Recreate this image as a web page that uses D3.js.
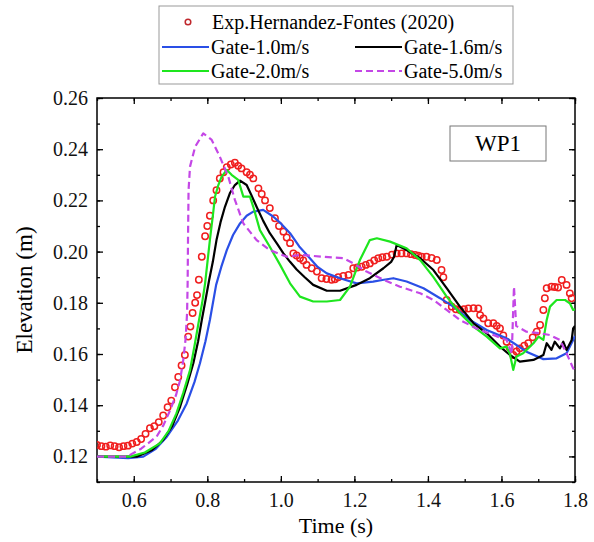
<!DOCTYPE html>
<html>
<head>
<meta charset="utf-8">
<script src="https://cdn.jsdelivr.net/npm/d3@7"></script>
<style>
  body { margin: 0; background: #fff; }
  text { font-family: "Liberation Serif", "Times New Roman", serif; }
</style>
</head>
<body>
<div id="chart"></div>
<script>
// ---- data (time s, elevation m) ----
let expData = [
  [0.500,0.1245],[0.512,0.1240],[0.524,0.1238],[0.536,0.1243],[0.548,0.1240],[0.560,0.1236],
  [0.572,0.1240],[0.584,0.1242],[0.596,0.1250],[0.608,0.1256],[0.620,0.1268],[0.632,0.1288],
  [0.644,0.1310],[0.656,0.1318],[0.668,0.1334],[0.680,0.1360],[0.692,0.1392],[0.702,0.1418],
  [0.712,0.1470],[0.721,0.1510],[0.730,0.1555],[0.739,0.1596],[0.748,0.1668],[0.754,0.1707],
  [0.760,0.1760],[0.767,0.1800],[0.772,0.1830],[0.777,0.1890],[0.785,0.1980],[0.794,0.2060],
  [0.800,0.2100],[0.807,0.2140],[0.816,0.2200],[0.825,0.2240],[0.834,0.2286],[0.844,0.2310],
  [0.853,0.2330],[0.864,0.2340],[0.875,0.2347],[0.884,0.2335],[0.893,0.2325],[0.907,0.2310],
  [0.916,0.2300],[0.925,0.2286],[0.939,0.2247],[0.948,0.2225],[0.957,0.2200],[0.970,0.2170],
  [0.984,0.2130],[0.995,0.2100],[1.007,0.2078],[1.016,0.2055],[1.025,0.2033],[1.034,0.1993],
  [1.043,0.1985],[1.052,0.1974],[1.061,0.1965],[1.070,0.1948],[1.084,0.1935],[1.098,0.1922],
  [1.111,0.1896],[1.124,0.1893],[1.138,0.1890],[1.147,0.1892],[1.156,0.1900],[1.170,0.1905],
  [1.184,0.1909],[1.197,0.1935],[1.208,0.1938],[1.220,0.1941],[1.231,0.1948],[1.242,0.1954],
  [1.254,0.1965],[1.265,0.1974],[1.276,0.1978],[1.288,0.1980],[1.302,0.1988],[1.315,0.1993],
  [1.328,0.1993],[1.342,0.1993],[1.354,0.1990],[1.365,0.1987],[1.374,0.1984],[1.383,0.1980],
  [1.396,0.1980],[1.410,0.1975],[1.424,0.1967],[1.437,0.1928],[1.442,0.1900],[1.451,0.1811],
  [1.465,0.1785],[1.476,0.1775],[1.487,0.1772],[1.498,0.1775],[1.510,0.1778],[1.524,0.1779],
  [1.537,0.1778],[1.542,0.1752],[1.551,0.1739],[1.564,0.1720],[1.578,0.1720],[1.587,0.1710],
  [1.596,0.1700],[1.605,0.1672],[1.614,0.1648],[1.622,0.1625],[1.632,0.1596],[1.641,0.1610],
  [1.650,0.1622],[1.662,0.1632],[1.673,0.1642],[1.685,0.1665],[1.696,0.1687],[1.705,0.1713],
  [1.714,0.1772],[1.718,0.1818],[1.723,0.1857],[1.736,0.1863],[1.745,0.1862],[1.754,0.1860],
  [1.764,0.1889],[1.777,0.1870],[1.786,0.1837],[1.791,0.1818]
]

let gate10 = [
  [0.500,0.1199],[0.585,0.1193],[0.626,0.1199],[0.660,0.1230],[0.690,0.1277],[0.720,0.1340],
  [0.744,0.1407],[0.765,0.1490],[0.780,0.1564],[0.795,0.1650],[0.807,0.1733],[0.824,0.1870],
  [0.838,0.1940],[0.853,0.2006],[0.870,0.2065],[0.889,0.2110],[0.907,0.2140],[0.925,0.2156],
  [0.952,0.2163],[0.979,0.2137],[1.000,0.2110],[1.025,0.2072],[1.050,0.2020],[1.079,0.1974],
  [1.100,0.1940],[1.125,0.1915],[1.161,0.1896],[1.206,0.1876],[1.251,0.1883],[1.280,0.1890],
  [1.306,0.1896],[1.342,0.1883],[1.388,0.1857],[1.433,0.1818],[1.469,0.1785],[1.514,0.1733],
  [1.560,0.1694],[1.614,0.1661],[1.668,0.1609],[1.714,0.1580],[1.750,0.1583],[1.777,0.1603],
  [1.795,0.1655],[1.800,0.1670]
]

let gate16 = [
  [0.500,0.1199],[0.608,0.1199],[0.650,0.1225],[0.680,0.1264],[0.705,0.1320],[0.726,0.1394],
  [0.745,0.1480],[0.762,0.1564],[0.775,0.1650],[0.785,0.1733],[0.795,0.1810],[0.805,0.1889],
  [0.815,0.1960],[0.825,0.2045],[0.836,0.2115],[0.848,0.2175],[0.862,0.2230],[0.875,0.2260],
  [0.889,0.2277],[0.907,0.2260],[0.920,0.2220],[0.934,0.2175],[0.952,0.2120],[0.970,0.2072],
  [0.990,0.2030],[1.007,0.1993],[1.025,0.1960],[1.043,0.1930],[1.065,0.1900],[1.088,0.1870],
  [1.125,0.1847],[1.161,0.1847],[1.206,0.1870],[1.242,0.1896],[1.279,0.1935],[1.300,0.1960],
  [1.308,0.1980],[1.315,0.2026],[1.342,0.2006],[1.379,0.1974],[1.415,0.1928],[1.451,0.1857],
  [1.487,0.1785],[1.524,0.1720],[1.560,0.1681],[1.596,0.1629],[1.623,0.1596],[1.650,0.1570],
  [1.687,0.1577],[1.714,0.1596],[1.723,0.1642],[1.736,0.1616],[1.745,0.1648],[1.759,0.1622],
  [1.768,0.1648],[1.777,0.1616],[1.791,0.1655],[1.795,0.1700],[1.800,0.1710]
]

let gate20 = [
  [0.500,0.1199],[0.590,0.1199],[0.630,0.1215],[0.671,0.1251],[0.695,0.1300],[0.716,0.1368],
  [0.735,0.1450],[0.753,0.1537],[0.765,0.1630],[0.776,0.1720],[0.786,0.1800],[0.794,0.1876],
  [0.807,0.2045],[0.815,0.2140],[0.821,0.2215],[0.830,0.2260],[0.839,0.2293],[0.853,0.2319],
  [0.866,0.2300],[0.884,0.2280],[0.898,0.2215],[0.916,0.2215],[0.925,0.2175],[0.943,0.2084],
  [0.970,0.2019],[0.998,0.1948],[1.025,0.1876],[1.052,0.1824],[1.088,0.1805],[1.125,0.1805],
  [1.161,0.1811],[1.188,0.1863],[1.215,0.1967],[1.242,0.2045],[1.261,0.2052],[1.297,0.2039],
  [1.342,0.2013],[1.379,0.1967],[1.415,0.1900],[1.451,0.1824],[1.487,0.1759],[1.524,0.1707],
  [1.560,0.1668],[1.596,0.1622],[1.614,0.1629],[1.623,0.1600],[1.632,0.1538],[1.641,0.1590],
  [1.659,0.1603],[1.687,0.1642],[1.701,0.1668],[1.714,0.1655],[1.723,0.1733],[1.732,0.1785],
  [1.750,0.1811],[1.773,0.1811],[1.786,0.1798],[1.795,0.1772],[1.800,0.1775]
]

let gate50 = [
  [0.500,0.1199],[0.581,0.1199],[0.620,0.1230],[0.662,0.1277],[0.680,0.1320],[0.699,0.1381],
  [0.715,0.1440],[0.726,0.1498],[0.735,0.1580],[0.741,0.1660],[0.745,0.1760],[0.7465,0.1876],
  [0.7475,0.2045],[0.749,0.2240],[0.753,0.2332],[0.767,0.2410],[0.789,0.2462],[0.812,0.2436],
  [0.834,0.2371],[0.857,0.2293],[0.875,0.2202],[0.898,0.2110],[0.934,0.2045],[0.970,0.2006],
  [1.016,0.1980],[1.052,0.1987],[1.115,0.1980],[1.170,0.1974],[1.197,0.1954],[1.233,0.1922],
  [1.279,0.1890],[1.324,0.1863],[1.379,0.1837],[1.415,0.1811],[1.451,0.1772],[1.487,0.1733],
  [1.532,0.1700],[1.578,0.1674],[1.614,0.1655],[1.628,0.1600],[1.634,0.1863],[1.640,0.1710],
  [1.668,0.1687],[1.705,0.1681],[1.732,0.1674],[1.759,0.1655],[1.777,0.1603],[1.795,0.1544],
  [1.800,0.1535]
]

let xTicks = [0.6, 0.8, 1.0, 1.2, 1.4, 1.6, 1.8]
let yTicks = [0.12, 0.14, 0.16, 0.18, 0.20, 0.22, 0.24, 0.26]

let lineSeries = [
  {name: 'Gate-1.0m/s', data: gate10, color: '#2a4fe6', dash: null},
  {name: 'Gate-1.6m/s', data: gate16, color: '#000000', dash: null},
  {name: 'Gate-2.0m/s', data: gate20, color: '#1ee61e', dash: null},
  {name: 'Gate-5.0m/s', data: gate50, color: '#c447e6', dash: '7,4'}
]

let width = 594, height = 542
let pLeft = 97, pRight = 575, pTop = 98, pBottom = 482

let svg = d3.select('#chart').append('svg')
    .attr('width', width)
    .attr('height', height)

let x = d3.scaleLinear().domain([0.5, 1.8]).range([pLeft, pRight])
let y = d3.scaleLinear().domain([0.11, 0.26]).range([pBottom, pTop])

svg.append('defs').append('clipPath')
    .attr('id', 'clip')
    .append('rect')
    .attr('x', pLeft).attr('y', pTop)
    .attr('width', pRight - pLeft).attr('height', pBottom - pTop)

// ticks: major and minor, pointing inward, mirrored on all sides
let xMinor = d3.range(0.5, 1.81, 0.1).map(d => +d.toFixed(2))
let yMinor = d3.range(0.11, 0.261, 0.01).map(d => +d.toFixed(3))

let axisStyle = function(g){
    g.select('.domain').remove()
    g.selectAll('line').attr('stroke', '#000').attr('stroke-width', 1.3)
    g.selectAll('text').attr('font-size', 20).attr('fill', '#111')
        .style('font-family', '"Liberation Serif", "Times New Roman", serif')
}

svg.append('g').attr('transform', 'translate(0,' + pBottom + ')')
    .call(d3.axisBottom(x).tickValues(xMinor).tickSize(-3).tickFormat(''))
    .call(axisStyle)
svg.append('g').attr('transform', 'translate(0,' + pBottom + ')')
    .call(d3.axisBottom(x).tickValues(xTicks).tickSize(-6).tickPadding(11).tickFormat(d3.format('.1f')))
    .call(axisStyle)
svg.append('g').attr('transform', 'translate(0,' + pTop + ')')
    .call(d3.axisTop(x).tickValues(xMinor).tickSize(-3).tickFormat(''))
    .call(axisStyle)
svg.append('g').attr('transform', 'translate(0,' + pTop + ')')
    .call(d3.axisTop(x).tickValues(xTicks).tickSize(-6).tickFormat(''))
    .call(axisStyle)

svg.append('g').attr('transform', 'translate(' + pLeft + ',0)')
    .call(d3.axisLeft(y).tickValues(yMinor).tickSize(-3).tickFormat(''))
    .call(axisStyle)
svg.append('g').attr('transform', 'translate(' + pLeft + ',0)')
    .call(d3.axisLeft(y).tickValues(yTicks).tickSize(-6).tickPadding(9).tickFormat(d3.format('.2f')))
    .call(axisStyle)
svg.append('g').attr('transform', 'translate(' + pRight + ',0)')
    .call(d3.axisRight(y).tickValues(yMinor).tickSize(-3).tickFormat(''))
    .call(axisStyle)
svg.append('g').attr('transform', 'translate(' + pRight + ',0)')
    .call(d3.axisRight(y).tickValues(yTicks).tickSize(-6).tickFormat(''))
    .call(axisStyle)

// plot frame
svg.append('rect')
    .attr('x', pLeft).attr('y', pTop)
    .attr('width', pRight - pLeft).attr('height', pBottom - pTop)
    .attr('fill', 'none')
    .attr('stroke', '#000')
    .attr('stroke-width', 1.5)

let plot = svg.append('g').attr('clip-path', 'url(#clip)')

// experiment circles
plot.selectAll('.exp')
    .data(expData)
    .enter()
    .append('circle')
    .attr('cx', d => x(d[0]))
    .attr('cy', d => y(d[1]))
    .attr('r', 3.2)
    .attr('fill', 'none')
    .attr('stroke', '#f01e1e')
    .attr('stroke-width', 1.5)

let line = d3.line()
    .x(d => x(d[0]))
    .y(d => y(d[1]))

lineSeries.forEach(function(s){
    plot.append('path')
        .datum(s.data)
        .attr('d', line)
        .attr('fill', 'none')
        .attr('stroke', s.color)
        .attr('stroke-width', 2.2)
        .attr('stroke-linejoin', 'round')
        .attr('stroke-dasharray', s.dash)
})

// axis titles
svg.append('text')
    .attr('x', (pLeft + pRight) / 2)
    .attr('y', 533)
    .attr('text-anchor', 'middle')
    .attr('font-size', 22)
    .text('Time (s)')

svg.append('text')
    .attr('transform', 'translate(32,' + ((pTop + pBottom) / 2) + ') rotate(-90)')
    .attr('text-anchor', 'middle')
    .attr('font-size', 23)
    .text('Elevation (m)')

// WP1 label box
svg.append('rect')
    .attr('x', 450).attr('y', 126)
    .attr('width', 96).attr('height', 35)
    .attr('fill', '#fff')
    .attr('stroke', '#777')
    .attr('stroke-width', 1)

svg.append('text')
    .attr('x', 498).attr('y', 151)
    .attr('text-anchor', 'middle')
    .attr('font-size', 23)
    .text('WP1')

// legend
let legend = svg.append('g')

legend.append('rect')
    .attr('x', 159).attr('y', 6)
    .attr('width', 354).attr('height', 78)
    .attr('fill', '#fff')
    .attr('stroke', '#999')
    .attr('stroke-width', 1)

legend.append('circle')
    .attr('cx', 188).attr('cy', 22)
    .attr('r', 2.8)
    .attr('fill', 'none')
    .attr('stroke', '#c0282d')
    .attr('stroke-width', 1.5)

legend.append('text')
    .attr('x', 212).attr('y', 29)
    .attr('font-size', 20)
    .text('Exp.Hernandez-Fontes (2020)')

let legendPos = [[162, 47], [355, 47], [162, 71], [355, 71]]

lineSeries.forEach(function(s, i){
    let p = legendPos[i]
    legend.append('line')
        .attr('x1', p[0]).attr('x2', p[0] + 47)
        .attr('y1', p[1]).attr('y2', p[1])
        .attr('stroke', s.color)
        .attr('stroke-width', 2.2)
        .attr('stroke-dasharray', s.dash)
    legend.append('text')
        .attr('x', p[0] + 49).attr('y', p[1] + 7)
        .attr('font-size', 20)
        .text(s.name)
})
</script>
</body>
</html>
